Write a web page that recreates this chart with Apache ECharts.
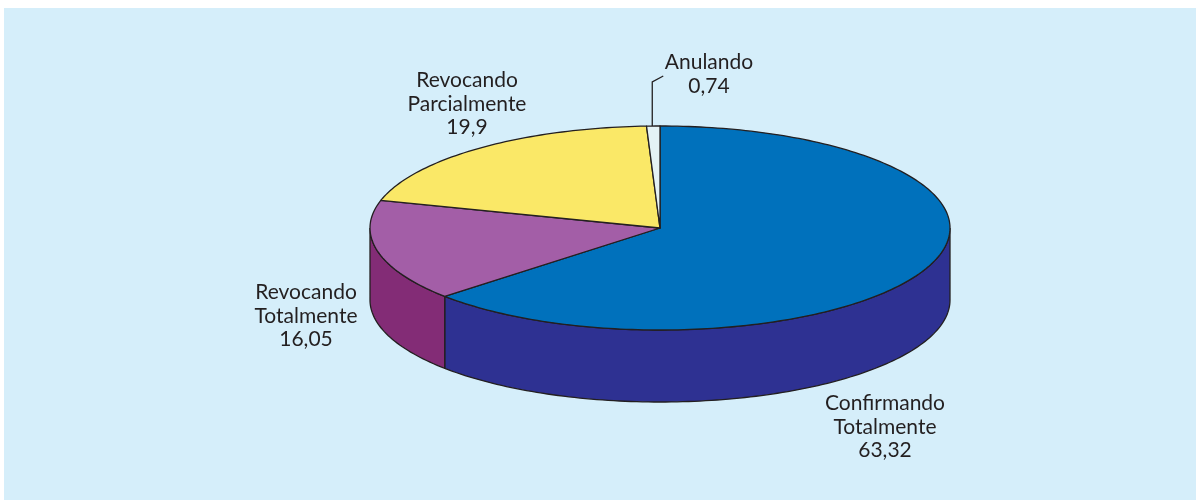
<!DOCTYPE html>
<html>
<head>
<meta charset="utf-8">
<script src="https://cdn.jsdelivr.net/npm/echarts@6/dist/echarts.min.js"></script>
<style>
  html, body { margin: 0; padding: 0; background: #fff; }
  #chart { width: 1196px; height: 500px; }
</style>
</head>
<body>
<div id="chart"></div>
<script>
// data
var categories = ['Confirmando\nTotalmente', 'Revocando\nTotalmente', 'Revocando\nParcialmente', 'Anulando'];
var values = [63.32, 16.05, 19.9, 0.74];
var valueLabels = ['63,32', '16,05', '19,9', '0,74'];

var topColors = ['#0071bc', '#a35ea7', '#fae867', '#e4f2f5'];
var sideColors = ['#2e3192', '#832c76', '#d9c63e', '#c9dde2'];

// pie geometry (pseudo 3d)
var cx = 660, cy = 228, rx = 290, ry = 102, depth = 72;
var edge = '#231f20';

// label boxes (center)
var labelPos = [[885, 427], [306, 316], [467, 104], [709, 74]];

var total = values.reduce(function (a, b) { return a + b; }, 0);
var starts = [];
var acc = 0;
for (var i = 0; i < values.length; i++) {
    starts.push(acc);
    acc += values[i];
}

function angleOf(v) {
    return -Math.PI / 2 + 2 * Math.PI * v / total;
}
function pt(t, dy) {
    return [cx + rx * Math.cos(t), cy + ry * Math.sin(t) + (dy || 0)];
}
function arc(a, b, dy) {
    var pts = [];
    var n = Math.max(2, Math.ceil(Math.abs(b - a) / 0.02));
    for (var k = 0; k <= n; k++) {
        pts.push(pt(a + (b - a) * k / n, dy));
    }
    return pts;
}

function renderItem(params, api) {
    var idx = params.dataIndex;
    var a = angleOf(starts[idx]);
    var b = angleOf(starts[idx] + api.value(0));
    var children = [];

    // front wall (visible part is 0..PI)
    var wa = Math.max(a, 0), wb = Math.min(b, Math.PI);
    if (wb > wa) {
        var wall = arc(wa, wb, 0).concat(arc(wb, wa, depth));
        children.push({
            type: 'polygon',
            z2: 1,
            shape: { points: wall },
            style: { fill: sideColors[idx], stroke: edge, lineWidth: 1.3 }
        });
    }

    // top face
    var top = [[cx, cy]].concat(arc(a, b, 0));
    children.push({
        type: 'polygon',
        z2: 2,
        shape: { points: top },
        style: { fill: topColors[idx], stroke: edge, lineWidth: 1.3, lineJoin: 'round' }
    });

    // leader line for the tiny slice
    if (api.value(0) < 2) {
        var m = pt((a + b) / 2, 0);
        children.push({
            type: 'polyline',
            z2: 3,
            shape: { points: [[m[0] - 1, m[1]], [m[0] - 1, 82], [m[0] + 10, 76]] },
            style: { stroke: edge, lineWidth: 1.3, fill: null }
        });
    }
    return { type: 'group', children: children };
}

var graphics = [{
    type: 'rect',
    shape: { x: 4, y: 8, width: 1192, height: 492 },
    style: { fill: '#d5eefa' },
    z: -10
}];
for (var j = 0; j < categories.length; j++) {
    graphics.push({
        type: 'text',
        x: labelPos[j][0],
        y: labelPos[j][1],
        z: 10,
        style: {
            text: categories[j] + '\n' + valueLabels[j],
            fill: edge,
            font: '21px Lato',
            lineHeight: 23.5,
            textAlign: 'center',
            textVerticalAlign: 'middle'
        }
    });
}

var chart = echarts.init(document.getElementById('chart'));
chart.setOption({
    backgroundColor: '#ffffff',
    animation: false,
    graphic: graphics,
    series: [{
        type: 'custom',
        coordinateSystem: 'none',
        renderItem: renderItem,
        data: values.map(function (v, k) { return [v, k]; })
    }]
});
</script>
</body>
</html>
